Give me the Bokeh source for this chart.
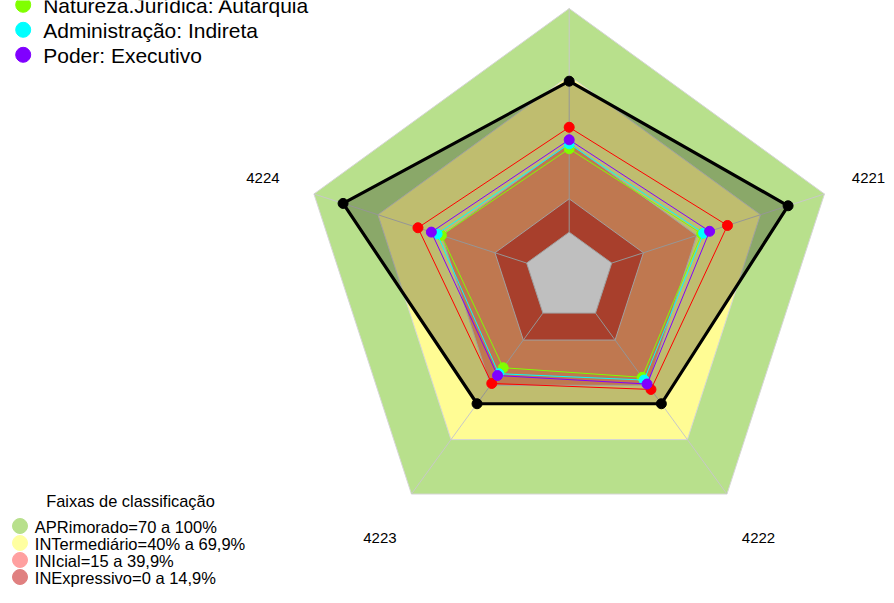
import math
from bokeh.plotting import figure
from bokeh.models import Range1d
from bokeh.core.properties import value
from bokeh.embed import file_html
from bokeh.resources import INLINE

# ---------------- data ----------------
axis_labels = [None, "4221", "4222", "4223", "4224"]   # top axis label falls outside the picture
axis_min = -20
axis_max = 100

band_names = ["APRimorado=70 a 100%", "INTermediário=40% a 69,9%",
              "INIcial=15 a 39,9%", "INExpressivo=0 a 14,9%"]
band_upper = [100, 69.9, 39.9, 14.9]
band_fill = ["#b8e08c", "#fffc94", "#ffa06b", "#e0553b"]
band_legend_colors = ["#b8e08c", "#ffffa0", "#ffa0a0", "#e08080"]
band_title = "Faixas de classificação"

black_vals = [67.5, 82.9, 50.1, 50.1, 86.3]
red_vals = [46.9, 54.4, 42.2, 38.9, 51.1]

series_names = ["Natureza.Jurídica: Autarquia", "Administração: Indireta", "Poder: Executivo"]
series_colors = ["#80ff00", "#00ffff", "#8000ff"]
series_vals = [
    [37.3, 42.3, 35.5, 30.2, 40.1],
    [39.5, 43.2, 37.0, 33.5, 42.1],
    [41.3, 46.0, 39.2, 34.5, 44.8],
]

# ---------------- layout ----------------
CX, CY, S = 568.7, 276.4, 268.4   # picture px of centre, px per unit radius
W, H = 886, 587
FONT = value("Liberation Sans")

def pg(px, py):
    return (px - CX) / S, (CY - py) / S

n = len(axis_labels)
angles = [math.pi / 2 - 2 * math.pi * k / n for k in range(n)]

def rad(v):
    return (v - axis_min) / (axis_max - axis_min)

def poly(vals):
    xs = [rad(v) * math.cos(a) for v, a in zip(vals, angles)]
    ys = [rad(v) * math.sin(a) for v, a in zip(vals, angles)]
    return xs, ys

p = figure(width=W, height=H, output_backend="svg", toolbar_location=None,
           x_range=Range1d(-CX / S, (W - CX) / S),
           y_range=Range1d((CY - H) / S, CY / S),
           x_axis_location=None, y_axis_location=None,
           min_border=0, min_border_left=0, min_border_right=0,
           min_border_top=0, min_border_bottom=0)
p.grid.visible = False
p.outline_line_color = None
p.background_fill_color = "white"

# bands
for up, col in zip(band_upper, band_fill):
    xs, ys = poly([up] * n)
    p.patch(xs, ys, fill_color=col, line_color="#d6d6d6", line_width=1)
xs, ys = poly([0] * n)
p.patch(xs, ys, fill_color="white", line_color="#d6d6d6", line_width=1)

# spokes
x0, y0 = poly([0] * n)
x1, y1 = poly([100] * n)
p.multi_line([[a, b] for a, b in zip(x0, x1)], [[a, b] for a, b in zip(y0, y1)],
             line_color="#c8c8c8", line_width=1)

# black series
xs, ys = poly(black_vals)
p.patch(xs, ys, fill_color="black", fill_alpha=0.25, line_color="black", line_width=3.2)
p.scatter(xs, ys, size=10, fill_color="black", line_color="black")

# red series
xs, ys = poly(red_vals)
p.patch(xs, ys, fill_color=None, line_color="#ff0000", line_width=1)
p.scatter(xs, ys, size=10, fill_color="#ff0000", line_color="#ff0000")

for vals, col in zip(series_vals, series_colors):
    xs, ys = poly(vals)
    p.patch(xs, ys, fill_color=None, line_color=col, line_width=1)
    p.scatter(xs, ys, size=10, fill_color=col, line_color=col)

# axis labels (the right-hand one nudged inward so it is not cut at the edge)
lx, ly, lt = [], [], []
for lab, a in zip(axis_labels, angles):
    if lab is None:
        continue
    x = 1.2 * math.cos(a)
    x = min(x, (W - 18 - CX) / S)
    lx.append(x)
    ly.append(1.2 * math.sin(a))
    lt.append(lab)
p.text(lx, ly, text=lt, text_font=FONT, text_font_size=value("15px"),
       text_align="center", text_baseline="middle", text_color="black", y_offset=1)

# top-left legend
cx_, cy_, tx_, ty_ = [], [], [], []
for i in range(len(series_names)):
    c = pg(22.7, 4.3 + 25 * i)
    t = pg(42.7, 4.8 + 25 * i)
    cx_.append(c[0]); cy_.append(c[1]); tx_.append(t[0]); ty_.append(t[1])
p.scatter(cx_, cy_, size=15, fill_color=series_colors, line_color=series_colors)
p.text(tx_, ty_, text=series_names, text_font=FONT, text_font_size=value("21px"),
       text_align="left", text_baseline="middle", text_color="black")

# bottom-left legend
t = pg(130, 500.5)
p.text([t[0]], [t[1]], text=[band_title], text_font=FONT, text_font_size=value("16.4px"),
       text_align="center", text_baseline="middle", text_color="black")
cx_, cy_, tx_, ty_ = [], [], [], []
for i in range(len(band_names)):
    c = pg(19.5, 525.5 + 17 * i)
    tt = pg(34.3, 526 + 17 * i)
    cx_.append(c[0]); cy_.append(c[1]); tx_.append(tt[0]); ty_.append(tt[1])
p.scatter(cx_, cy_, size=15, fill_color=band_legend_colors, line_color=band_legend_colors)
p.text(tx_, ty_, text=band_names, text_font=FONT, text_font_size=value("16.5px"),
       text_align="left", text_baseline="middle", text_color="black")

open("out.html", "w").write(file_html(p, INLINE))
